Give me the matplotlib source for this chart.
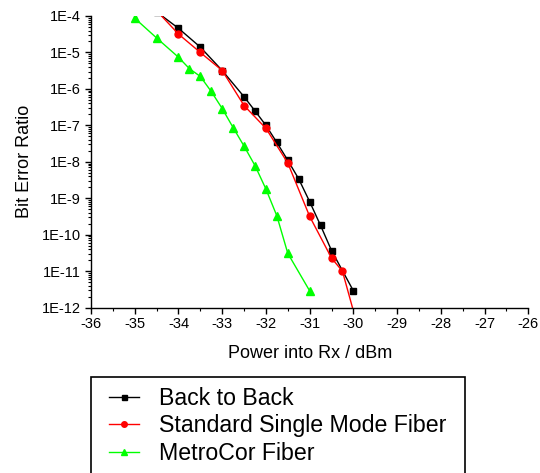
import matplotlib
matplotlib.use('Agg')
import matplotlib.pyplot as plt
from matplotlib.patches import Rectangle
from matplotlib.ticker import LogLocator, FixedLocator, FuncFormatter
import numpy as np

plt.rcParams['font.family'] = ['Liberation Sans', 'DejaVu Sans']
plt.rcParams['axes.unicode_minus'] = False

# data
b2b_x = [-34.5, -34.0, -33.5, -33.0, -32.5, -32.25, -32.0, -31.75, -31.5, -31.25, -31.0, -30.75, -30.5, -30.0]
b2b_ber = [1.3e-4, 4.6e-5, 1.4e-5, 3.2e-6, 6.1e-7, 2.5e-7, 1.0e-7, 3.4e-8, 1.1e-8, 3.4e-9, 8.1e-10, 1.8e-10, 3.7e-11, 2.9e-12]

ssmf_x = [-34.5, -34.0, -33.5, -33.0, -32.5, -32.0, -31.5, -31.0, -30.5, -30.25, -29.9]
ssmf_ber = [1.4e-4, 3.2e-5, 1.0e-5, 3.2e-6, 3.5e-7, 8.3e-8, 9.3e-9, 3.2e-10, 2.3e-11, 1.0e-11, 3e-13]

metro_x = [-35.0, -34.5, -34.0, -33.75, -33.5, -33.25, -33.0, -32.75, -32.5, -32.25, -32.0, -31.75, -31.5, -31.0]
metro_ber = [8.7e-5, 2.5e-5, 7.4e-6, 3.6e-6, 2.2e-6, 8.5e-7, 2.9e-7, 8.7e-8, 2.7e-8, 7.9e-9, 1.8e-9, 3.3e-10, 3.1e-11, 2.9e-12]

labels = ['Back to Back', 'Standard Single Mode Fiber', 'MetroCor Fiber']
x_ticks = [-36, -35, -34, -33, -32, -31, -30, -29, -28, -27, -26]

fig = plt.figure(figsize=(5.4, 4.73), dpi=100)
ax = fig.add_axes([91 / 540, 1 - 307.7 / 473, (528.3 - 91) / 540, (307.7 - 16) / 473])

ax.plot(b2b_x, b2b_ber, color='black', lw=1.0, marker='s', ms=4.5, label=labels[0])
ax.plot(ssmf_x, ssmf_ber, color='#ff0000', lw=1.0, marker='o', ms=5, label=labels[1])
ax.plot(metro_x, metro_ber, color='#00ff00', lw=1.0, marker='^', ms=5.5, label=labels[2])

ax.set_yscale('log')
ax.set_xlim(-36, -26)
ax.set_ylim(1e-12, 1e-4)

ax.xaxis.set_major_locator(FixedLocator(x_ticks))
ax.xaxis.set_minor_locator(FixedLocator(np.arange(-35.5, -26, 1.0)))
ax.yaxis.set_major_locator(LogLocator(base=10, numticks=20))
ax.yaxis.set_minor_locator(LogLocator(base=10, subs=np.arange(2, 10), numticks=20))
ax.yaxis.set_major_formatter(FuncFormatter(lambda v, p: '1E%d' % round(np.log10(v))))
ax.yaxis.set_minor_formatter(FuncFormatter(lambda v, p: ''))

for s in ['top', 'right']:
    ax.spines[s].set_visible(False)
for s in ['left', 'bottom']:
    ax.spines[s].set_linewidth(1.0)

ax.tick_params(axis='both', which='major', direction='out', length=4, width=1.0, labelsize=10.5, pad=2.5)
ax.tick_params(axis='both', which='minor', direction='out', length=2.5, width=0.8)
ax.tick_params(axis='y', which='major', pad=3.5)

ax.set_xlabel('Power into Rx / dBm', fontsize=13, labelpad=10)
ax.set_ylabel('Bit Error Ratio', fontsize=13, labelpad=6)

# legend box, runs off the bottom edge
fig.patches.append(Rectangle((91 / 540, -0.05), (465 - 91) / 540, (1 - 377 / 473) + 0.05,
                             transform=fig.transFigure, fill=False, ec='black', lw=1.2))
handles, lbls = ax.get_legend_handles_labels()
fig.legend(handles, lbls, loc='upper left', bbox_to_anchor=(109 / 540, 1 - 387 / 473),
           frameon=False, fontsize=16.7, handlelength=1.3, handletextpad=0.85,
           labelspacing=0.19, borderpad=0, borderaxespad=0, markerscale=0.8)

fig.savefig('out.png', dpi=100)
